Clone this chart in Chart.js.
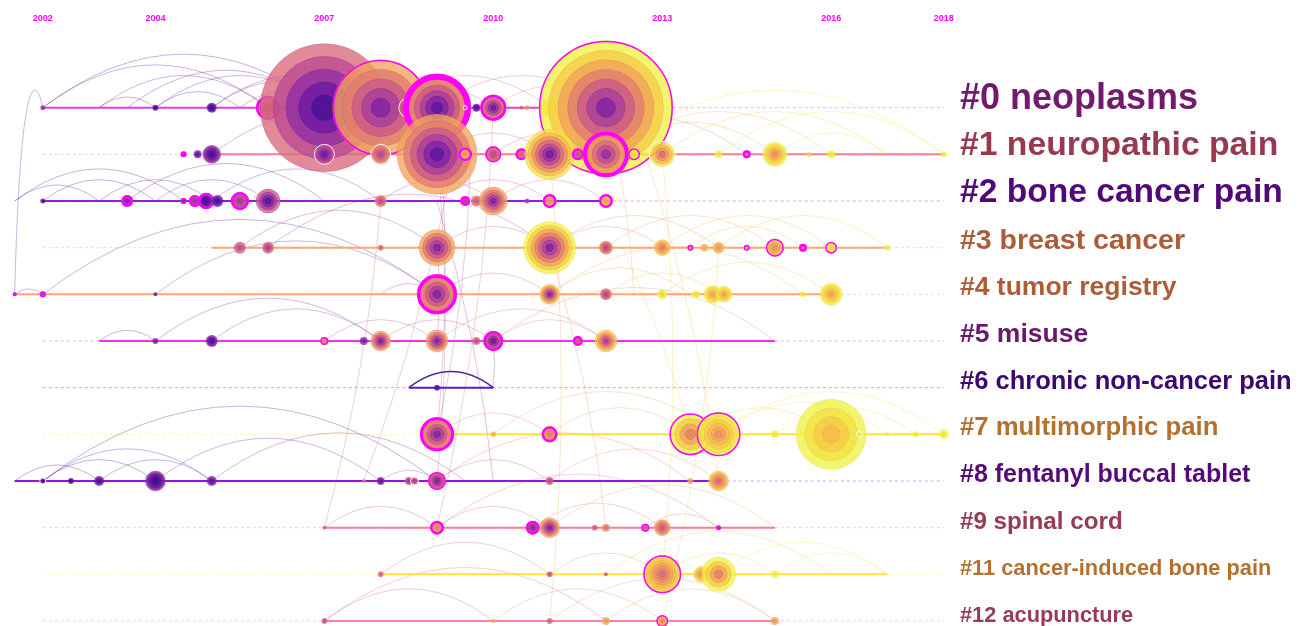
<!DOCTYPE html>
<html>
<head>
<meta charset="utf-8">
<title>Cluster timeline</title>
<script src="https://cdn.jsdelivr.net/npm/chart.js@4.4.1/dist/chart.umd.min.js"></script>
<style>
  body { margin: 0; background: #fff; }
  #wrap { width: 1299px; height: 626px; }
</style>
</head>
<body>
<div id="wrap"><canvas id="timeline"></canvas></div>
<script>
// ---- data ----
const clusters = ['#0 neoplasms', '#1 neuropathic pain', '#2 bone cancer pain', '#3 breast cancer',
  '#4 tumor registry', '#5 misuse', '#6 chronic non-cancer pain', '#7 multimorphic pain',
  '#8 fentanyl buccal tablet', '#9 spinal cord', '#11 cancer-induced bone pain', '#12 acupuncture'];
const yearTicks = [2002, 2004, 2007, 2010, 2013, 2016, 2018];

// active period of each cluster (solid part of its line)
const spanStart = [2002, 2005, 2002, 2005, 2001.5, 2003, 2008.5, 2009, 2001.5, 2007, 2008, 2007];
const spanEnd   = [2012, 2018, 2012, 2017, 2016, 2015, 2010, 2018, 2014, 2015, 2017, 2015];

// year, cluster row, size, first cited, last cited, flag (0 none, 1 burst, 2 strong burst, 3 sigma)
const nodes = [
  [2002, 0, 2.5, 2006, 2008, 0], [2004, 0, 3, 2002, 2004, 0], [2005, 0, 5, 2002, 2005, 0],
  [2006, 0, 12, 2008, 2010, 2], [2006.5, 0, 7, 2007, 2011, 2], [2007, 0, 64, 2003, 2011, 0],
  [2007.5, 0, 4, 2007, 2009, 3], [2008, 0, 48, 2005, 2014, 1], [2008.5, 0, 10, 2008, 2010, 3],
  [2009, 0, 34, 2004, 2014, 2], [2009.5, 0, 2, 2009, 2010, 3], [2009.7, 0, 4, 2003, 2005, 0],
  [2010, 0, 13, 2004, 2013, 2], [2010.5, 0, 2, 2009, 2011, 0], [2010.6, 0, 2.5, 2012, 2014, 0],
  [2011, 0, 10, 2016, 2018, 0], [2011.5, 0, 6, 2008, 2012, 3], [2012, 0, 67, 2006, 2018, 1],

  [2004.5, 1, 3, 2008, 2010, 2], [2004.75, 1, 4, 2004, 2006, 0], [2005, 1, 9, 2003, 2008, 0],
  [2007, 1, 10, 2005, 2010, 3], [2008, 1, 10, 2009, 2013, 3], [2009, 1, 40, 2004, 2014, 0],
  [2009.5, 1, 7, 2013, 2016, 2], [2010, 1, 8, 2009, 2012, 1], [2010.5, 1, 6, 2010, 2013, 2],
  [2011, 1, 25, 2005, 2017, 0], [2011.5, 1, 6, 2009, 2012, 2], [2012, 1, 23, 2007, 2015, 2],
  [2012.5, 1, 6, 2016, 2018, 1], [2013, 1, 13, 2010, 2017, 3], [2014, 1, 4, 2017, 2018, 0],
  [2014.5, 1, 4, 2012, 2014, 2], [2015, 1, 12, 2013, 2018, 0], [2015.6, 1, 2.5, 2015, 2016, 0],
  [2016, 1, 4, 2017, 2018, 0], [2018, 1, 3, 2017, 2018, 0],

  [2002, 2, 2.5, 2002, 2003, 0], [2003.5, 2, 6, 2006, 2008, 2], [2004.5, 2, 3, 2006, 2007, 1],
  [2004.7, 2, 6, 2007, 2009, 2], [2004.9, 2, 8, 2003, 2006, 2], [2005.1, 2, 6, 2003, 2005, 0],
  [2005.5, 2, 9, 2008, 2010, 2], [2006, 2, 12, 2003, 2010, 0], [2008, 2, 6, 2009, 2012, 0],
  [2009.5, 2, 5, 2008, 2010, 2], [2009.7, 2, 6, 2010, 2012, 3], [2010, 2, 14, 2005, 2014, 0],
  [2010.6, 2, 2.5, 2007, 2009, 0], [2011, 2, 7, 2013, 2014, 2], [2012, 2, 7, 2013, 2017, 2],

  [2005.5, 3, 6, 2009, 2010, 0], [2006, 3, 6, 2008, 2011, 0], [2008, 3, 3, 2010, 2012, 0],
  [2009, 3, 18, 2005, 2014, 0], [2011, 3, 26, 2006, 2018, 0], [2012, 3, 7, 2008, 2013, 0],
  [2013, 3, 8, 2012, 2016, 0], [2013.5, 3, 3, 2014, 2015, 1], [2013.75, 3, 4, 2014, 2015, 0],
  [2014, 3, 6, 2013, 2015, 0], [2014.5, 3, 3, 2014, 2015, 1], [2015, 3, 9, 2013, 2016, 1],
  [2015.5, 3, 4, 2012, 2013, 2], [2016, 3, 6, 2016, 2018, 1], [2017, 3, 3, 2017, 2018, 0],

  [2001.5, 4, 2, 2007, 2008, 1], [2002, 4, 3, 2008, 2009, 1], [2004, 4, 2, 2004, 2005, 0],
  [2009, 4, 20, 2005, 2014, 2], [2011, 4, 10, 2006, 2016, 0], [2012, 4, 6, 2008, 2012, 0],
  [2012.6, 4, 2, 2016, 2017, 0], [2013, 4, 5, 2016, 2018, 0], [2013.6, 4, 4, 2016, 2018, 0],
  [2013.9, 4, 9, 2014, 2018, 0], [2014.1, 4, 8, 2014, 2018, 0], [2015.5, 4, 3, 2016, 2018, 0],
  [2016, 4, 11, 2014, 2018, 0],

  [2004, 5, 3, 2005, 2006, 0], [2005, 5, 6, 2003, 2006, 0], [2007, 5, 4, 2012, 2013, 1],
  [2007.7, 5, 4, 2005, 2006, 0], [2008, 5, 10, 2005, 2014, 0], [2009, 5, 11, 2006, 2014, 0],
  [2009.7, 5, 4, 2009, 2011, 0], [2010, 5, 10, 2004, 2011, 2], [2011.5, 5, 5, 2010, 2012, 2],
  [2012, 5, 11, 2007, 2016, 0],

  [2009, 6, 3, 2003, 2005, 0],

  [2009, 7, 17, 2005, 2014, 2], [2010, 7, 3, 2014, 2016, 0], [2011, 7, 8, 2012, 2015, 2],
  [2013.5, 7, 21, 2011, 2018, 1], [2014, 7, 22, 2013, 2018, 1], [2015, 7, 4, 2017, 2018, 0],
  [2015.5, 7, 4, 2017, 2018, 3], [2016, 7, 35, 2015, 2018, 0], [2016.5, 7, 3, 2017, 2018, 3],
  [2017, 7, 2, 2017, 2018, 0], [2017.5, 7, 3, 2017, 2018, 0], [2018, 7, 5, 2017, 2018, 0],

  [2002, 8, 3, 2002, 2004, 3], [2002.5, 8, 3, 2002, 2004, 0], [2003, 8, 5, 2003, 2005, 0],
  [2004, 8, 10, 2002, 2007, 0], [2005, 8, 5, 2004, 2006, 0], [2007.7, 8, 2, 2011, 2012, 0],
  [2008, 8, 4, 2004, 2007, 0], [2008.5, 8, 4, 2007, 2010, 0], [2008.6, 8, 4, 2008, 2010, 3],
  [2009, 8, 9, 2006, 2012, 1], [2011, 8, 4, 2008, 2011, 0], [2013.5, 8, 3, 2013, 2014, 0],
  [2014, 8, 10, 2011, 2016, 0],

  [2007, 9, 2, 2010, 2011, 0], [2009, 9, 7, 2012, 2014, 2], [2010.7, 9, 7, 2006, 2010, 2],
  [2011, 9, 10, 2006, 2014, 0], [2011.8, 9, 3, 2010, 2011, 0], [2012, 9, 4, 2011, 2013, 0],
  [2012.7, 9, 4, 2010, 2012, 1], [2013, 9, 8, 2010, 2014, 0], [2014, 9, 2, 2011, 2012, 2],

  [2008, 10, 3, 2010, 2012, 0], [2011, 10, 3, 2009, 2011, 0], [2012, 10, 2, 2009, 2011, 0],
  [2013, 10, 19, 2011, 2017, 1], [2013.7, 10, 8, 2013, 2017, 0], [2014, 10, 17, 2011, 2018, 0],
  [2015, 10, 4, 2017, 2018, 0],

  [2007, 11, 3, 2009, 2011, 0], [2010, 11, 2, 2013, 2014, 0], [2011, 11, 3, 2010, 2011, 0],
  [2012, 11, 4, 2013, 2014, 0], [2013, 11, 6, 2012, 2016, 1], [2015, 11, 4, 2013, 2014, 0]
];

// co-citation links inside a cluster: row, from year, to year, link year
const arcs = [
  [0, 2002, 2006, 2004], [0, 2002, 2007, 2003], [0, 2003, 2006, 2005], [0, 2003.5, 2007, 2004],
  [0, 2004, 2007, 2005], [0, 2004, 2005.5, 2004], [0, 2005, 2007.5, 2006], [0, 2005, 2008, 2006],
  [0, 2003, 2004, 2003], [0, 2005.5, 2007, 2005], [0, 2006, 2008, 2007], [0, 2008, 2010, 2009],
  [0, 2007, 2009, 2008], [0, 2009, 2012, 2011], [0, 2010, 2012, 2012], [0, 2008, 2011, 2011],
  [1, 2005, 2009, 2007], [1, 2009, 2011, 2010], [1, 2010, 2012, 2011], [1, 2011, 2013, 2013],
  [1, 2012, 2015, 2014], [1, 2012, 2016, 2015], [1, 2013, 2017, 2016], [1, 2011, 2014.5, 2013],
  [1, 2014, 2018, 2017], [1, 2015, 2017, 2017], [1, 2012, 2018, 2017],
  [2, 2001.5, 2003, 2003], [2, 2001.5, 2004.5, 2003], [2, 2002, 2004, 2003], [2, 2003, 2005, 2004],
  [2, 2003.5, 2007, 2004], [2, 2004, 2006, 2005], [2, 2005, 2008, 2006], [2, 2008, 2010, 2009],
  [2, 2009, 2011, 2010], [2, 2010, 2012, 2011],
  [3, 2005.5, 2009, 2007], [3, 2006, 2011, 2008], [3, 2009, 2011, 2010], [3, 2011, 2013, 2012],
  [3, 2011, 2014, 2013], [3, 2012, 2015, 2014], [3, 2013, 2016, 2015], [3, 2014, 2017, 2016],
  [3, 2013.5, 2015.5, 2015],
  [4, 2001.5, 2002, 2005], [4, 2002, 2009, 2004], [4, 2004, 2009, 2006], [4, 2009, 2011, 2010],
  [4, 2011, 2013.5, 2014], [4, 2012, 2014, 2015], [4, 2013, 2016, 2016], [4, 2011, 2015.5, 2015],
  [4, 2008, 2009, 2008],
  [5, 2003, 2004, 2004], [5, 2004, 2008, 2006], [5, 2005, 2008, 2007], [5, 2007, 2009, 2009],
  [5, 2008, 2010, 2009], [5, 2009, 2012, 2011], [5, 2010, 2012, 2012], [5, 2010, 2015, 2013],
  [6, 2008.5, 2010, 2002],
  [7, 2009, 2011, 2012], [7, 2011, 2013.5, 2014], [7, 2013.5, 2016, 2016], [7, 2014, 2017, 2017],
  [7, 2014, 2018, 2017], [7, 2015, 2017.5, 2017], [7, 2010, 2014, 2014],
  [8, 2001.5, 2003, 2003], [8, 2002, 2004, 2003], [8, 2002, 2005, 2004], [8, 2003, 2005, 2004],
  [8, 2002, 2009, 2003], [8, 2004, 2008, 2005], [8, 2005, 2009.5, 2006], [8, 2008, 2009, 2008],
  [8, 2009, 2011, 2010], [8, 2009, 2013.5, 2012], [8, 2011, 2014, 2013],
  [9, 2007, 2009, 2009], [9, 2009, 2011, 2011], [9, 2010.7, 2013, 2012], [9, 2012.7, 2014, 2012],
  [9, 2011, 2015, 2014], [9, 2009, 2014, 2012],
  [10, 2008, 2011, 2011], [10, 2011, 2013, 2013], [10, 2013, 2015, 2016], [10, 2014, 2017, 2017],
  [10, 2012, 2016, 2016], [10, 2015, 2017, 2017],
  [11, 2007, 2010, 2010], [11, 2010, 2013, 2013], [11, 2011, 2015, 2014], [11, 2012, 2015, 2014],
  [11, 2007, 2012, 2011]
];

// links between clusters: year, row, year, row, link year
const links = [
  [2001.5, 4, 2002, 0, 2003], [2009, 0, 2009, 7, 2008], [2009, 1, 2009, 8, 2009],
  [2009, 2, 2010, 8, 2007], [2009.3, 1, 2007.7, 8, 2010], [2009.6, 1, 2009, 7, 2009],
  [2009, 3, 2009, 5, 2008], [2013, 1, 2013, 10, 2016], [2012.7, 1, 2014, 8, 2015],
  [2012.3, 3, 2013.5, 7, 2016], [2010, 5, 2010, 6, 2007], [2012, 0, 2012.5, 4, 2014],
  [2011, 1, 2011, 11, 2014], [2008, 2, 2007, 9, 2010], [2010, 0, 2009, 9, 2011],
  [2011, 3, 2012, 9, 2013], [2014, 3, 2013, 11, 2016]
];

// ---- style ----
const palette = ['#3b0f8c', '#4a1096', '#5a149e', '#6c1aa4', '#7e22a6', '#9230a4', '#a83c9c',
  '#bc4a92', '#cc5888', '#d86a7c', '#e27c70', '#ec9064', '#f2a45a', '#f6b850', '#f6cc48',
  '#f2e244', '#eef244'];
const lineColors = ['#e03ee6', '#ff7a94', '#9a1ae6', '#ffa472', '#ffa472', '#f030f0', '#5a1ad0',
  '#ffe040', '#9a10e6', '#ff7a94', '#ffe040', '#ff80a0'];
const labelColors = ['#73196e', '#98394f', '#510878', '#ad5c38', '#ad5c38', '#6a186c', '#3c0870',
  '#b5702e', '#560a78', '#983a52', '#b5702e', '#983a5a'];
const labelSizes = [36, 33.7, 33.6, 28.5, 26.5, 26.5, 25.5, 25.7, 25, 24.2, 21.8, 21.8];
const FONT = '"Liberation Sans", Arial, sans-serif';

function yearColor(y, a) {
  const i = Math.max(0, Math.min(palette.length - 1, Math.round(y) - 2002));
  return fade(palette[i], a);
}
function fade(h, a) {
  const r = parseInt(h.slice(1, 3), 16), g = parseInt(h.slice(3, 5), 16), b = parseInt(h.slice(5, 7), 16);
  return 'rgba(' + r + ',' + g + ',' + b + ',' + a + ')';
}

// ---- datasets ----
var datasets = [];
clusters.forEach(function (name, i) {
  datasets.push({
    type: 'line', data: [{x: 2002, y: i}, {x: 2018, y: i}],
    borderColor: fade(lineColors[i], 0.4), borderWidth: 1, borderDash: [3, 3],
    pointRadius: 0, clip: false
  });
  datasets.push({
    type: 'line', data: [{x: spanStart[i], y: i}, {x: spanEnd[i], y: i}],
    borderColor: lineColors[i], borderWidth: 2, pointRadius: 0, clip: false
  });
});
datasets.push({
  type: 'bubble', label: 'nodes',
  data: nodes.map(function (n) { return {x: n[0], y: n[1], r: n[2]}; }),
  backgroundColor: 'rgba(0,0,0,0)', borderWidth: 0, clip: false
});

// links and arcs under the nodes
const linkPlugin = {
  id: 'links',
  beforeDatasetsDraw(chart) {
    const c = chart.ctx, xs = chart.scales.x, ys = chart.scales.y;
    c.save();
    arcs.forEach(function (a) {
      const x1 = xs.getPixelForValue(a[1]), x2 = xs.getPixelForValue(a[2]);
      const y = ys.getPixelForValue(a[0]);
      const h = 0.19 * Math.abs(x2 - x1);
      c.beginPath();
      c.moveTo(x1, y);
      c.quadraticCurveTo((x1 + x2) / 2, y - 2 * h, x2, y);
      const strong = a[0] === 6;
      c.strokeStyle = yearColor(a[3], strong ? 0.9 : 0.32);
      c.lineWidth = strong ? 1.5 : 1;
      c.stroke();
    });
    c.lineWidth = 1;
    links.forEach(function (l) {
      const x1 = xs.getPixelForValue(l[0]), y1 = ys.getPixelForValue(l[1]);
      const x2 = xs.getPixelForValue(l[2]), y2 = ys.getPixelForValue(l[3]);
      c.beginPath();
      c.moveTo(x1, y1);
      if (Math.abs(x2 - x1) < 40 && y2 < y1) {
        c.bezierCurveTo(x1 + 6, y2 - 50, x2 - 6, y2 - 30, x2, y2);
      } else {
        c.quadraticCurveTo((x1 + x2) / 2 + (y2 - y1) * 0.05, (y1 + y2) / 2, x2, y2);
      }
      c.strokeStyle = yearColor(l[4], 0.3);
      c.stroke();
    });
    c.restore();
  }
};

// tree rings on every node (at most 7 bands)
const ringPlugin = {
  id: 'rings',
  afterDatasetsDraw(chart) {
    const c = chart.ctx;
    const meta = chart.getDatasetMeta(chart.data.datasets.length - 1);
    c.save();
    meta.data.forEach(function (el, i) {
      const n = nodes[i];
      const size = n[2], first = n[3], last = n[4], flag = n[5];
      const span = last - first + 1;
      const step = Math.ceil(span / 7);
      const bands = Math.ceil(span / step);
      for (let b = 0; b < bands; b++) {
        const k = last - b * step;
        const rad = size * (bands - b) / bands;
        c.beginPath();
        c.arc(el.x, el.y, rad, 0, Math.PI * 2);
        c.fillStyle = yearColor(k, 0.78);
        c.fill();
        if (size >= 8) {
          c.strokeStyle = yearColor(k - 2, 0.35);
          c.lineWidth = 1;
          c.stroke();
        }
      }
      if (flag === 1 || flag === 2) {
        const w = flag === 2 ? Math.max(2.5, size * 0.18) : 1.5;
        c.beginPath();
        c.arc(el.x, el.y, Math.max(size - w / 2, w / 2), 0, Math.PI * 2);
        c.strokeStyle = '#ff00ff';
        c.lineWidth = w;
        c.stroke();
      } else if (flag === 3) {
        c.beginPath();
        c.arc(el.x, el.y, size, 0, Math.PI * 2);
        c.strokeStyle = 'rgba(255,255,255,0.9)';
        c.lineWidth = 1;
        c.stroke();
      }
    });
    c.restore();
  }
};

// cluster names to the right of each line
const labelPlugin = {
  id: 'clusterLabels',
  afterDraw(chart) {
    const c = chart.ctx, ys = chart.scales.y;
    c.save();
    c.textAlign = 'left';
    c.textBaseline = 'alphabetic';
    clusters.forEach(function (name, i) {
      c.font = 'bold ' + labelSizes[i] + 'px ' + FONT;
      c.fillStyle = labelColors[i];
      c.fillText(name, chart.chartArea.right + 10, ys.getPixelForValue(i) + 1);
    });
    c.restore();
  }
};

new Chart(document.getElementById('timeline'), {
  type: 'bubble',
  data: { datasets: datasets },
  plugins: [linkPlugin, ringPlugin, labelPlugin],
  options: {
    responsive: true,
    maintainAspectRatio: false,
    animation: false,
    events: [],
    layout: { autoPadding: false, padding: { left: 0, right: 349, top: 0, bottom: 0 } },
    plugins: { legend: { display: false }, tooltip: { enabled: false } },
    scales: {
      x: {
        type: 'linear', position: 'top', min: 2001.24, max: 2018.11,
        grid: { display: false, drawTicks: false }, border: { display: false },
        afterBuildTicks: function (axis) { axis.ticks = yearTicks.map(function (v) { return {value: v}; }); },
        afterFit: function (axis) { axis.height = 32; },
        ticks: {
          color: '#ff00ff', padding: 8, maxRotation: 0, autoSkip: false,
          font: { family: FONT, size: 9, weight: 'bold' },
          callback: function (v) { return String(v); }
        }
      },
      y: {
        type: 'linear', display: false, reverse: true, min: -1.622, max: 11.108
      }
    }
  }
});
</script>
</body>
</html>
